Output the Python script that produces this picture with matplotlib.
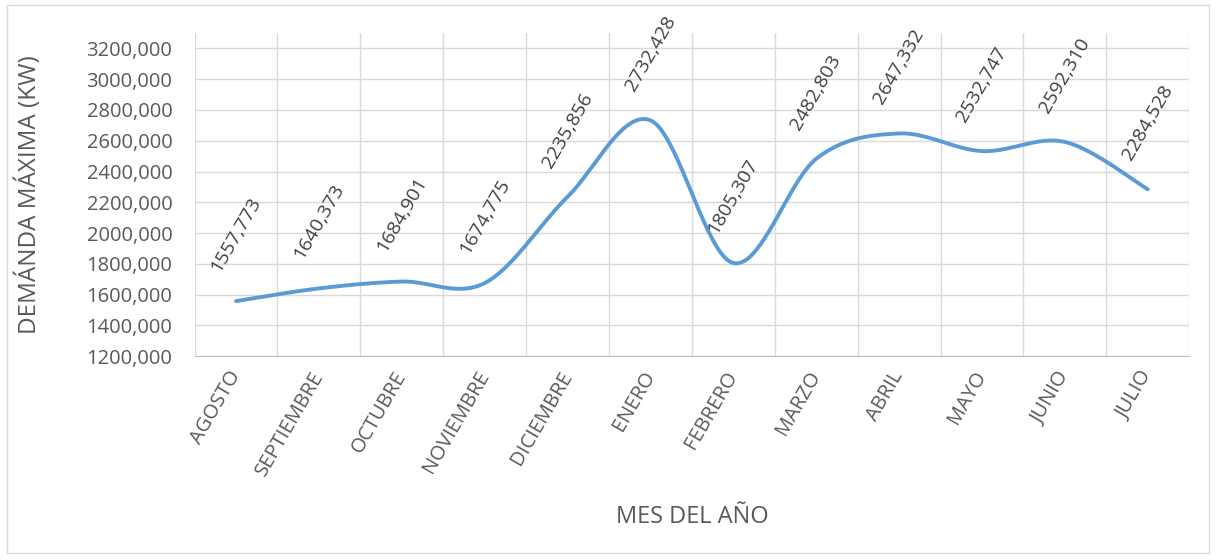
import numpy as np
import matplotlib
matplotlib.use("Agg")
import matplotlib.pyplot as plt
from matplotlib.patches import Rectangle

plt.rcParams['font.family'] = ['Open Sans', 'DejaVu Sans']

meses = ["AGOSTO", "SEPTIEMBRE", "OCTUBRE", "NOVIEMBRE", "DICIEMBRE", "ENERO",
         "FEBRERO", "MARZO", "ABRIL", "MAYO", "JUNIO", "JULIO"]
demanda = [1557.773, 1640.373, 1684.901, 1674.775, 2235.856, 2732.428,
           1805.307, 2482.803, 2647.332, 2532.747, 2592.310, 2284.528]
y_ticks = list(range(1200, 3201, 200))

GRIS = "#595959"
AZUL = "#5B9BD5"


def fmt(v):
    # coma decimal, tres decimales
    return f"{v:.3f}".replace(".", ",")


def suavizar(x, y, n=40):
    # curva tipo Excel: bezier cubica con puntos de control de Catmull-Rom
    x = np.asarray(x, float)
    y = np.asarray(y, float)
    px = np.concatenate([[x[0]], x, [x[-1]]])
    py = np.concatenate([[y[0]], y, [y[-1]]])
    xs, ys = [], []
    t = np.linspace(0, 1, n)
    for i in range(1, len(px) - 2):
        p0 = np.array([px[i], py[i]])
        p3 = np.array([px[i + 1], py[i + 1]])
        p1 = p0 + (p3 - np.array([px[i - 1], py[i - 1]])) / 6
        p2 = p3 - (np.array([px[i + 2], py[i + 2]]) - p0) / 6
        b = ((1 - t) ** 3)[:, None] * p0 + (3 * (1 - t) ** 2 * t)[:, None] * p1 \
            + (3 * (1 - t) * t ** 2)[:, None] * p2 + (t ** 3)[:, None] * p3
        xs.extend(b[:, 0])
        ys.extend(b[:, 1])
    return xs, ys


fig = plt.figure(figsize=(12.16, 5.6), dpi=100)
fig.patches.append(Rectangle((7 / 1216, 7 / 560), 1202 / 1216, 548 / 560,
                             transform=fig.transFigure, fill=False,
                             edgecolor="#D9D9D9", lw=1))
ax = fig.add_axes([0.160, 0.364, 0.818, 0.577])

x = np.arange(len(meses))
sx, sy = suavizar(x, demanda)
ax.plot(sx, sy, color=AZUL, lw=2.8, solid_capstyle="round", zorder=3)

for xi, v in zip(x, demanda):
    ax.annotate(fmt(v), (xi, v), xytext=(0, 48), textcoords="offset points",
                rotation=60, ha="center", va="center", fontsize=14,
                color="#404040", zorder=4)

ax.set_xlim(-0.5, len(meses) - 0.5)
ax.set_ylim(1200, 3300)
ax.set_yticks(y_ticks)
ax.set_yticklabels([fmt(v) for v in y_ticks], fontsize=14.5, color=GRIS)
ax.set_xticks(x)
ax.set_xticklabels(meses, rotation=60, ha="right", va="center",
                   rotation_mode="anchor", fontsize=14.5, color=GRIS)
ax.tick_params(axis="both", length=0)
ax.tick_params(axis="x", pad=12)
ax.tick_params(axis="y", pad=16)

for yv in y_ticks:
    ax.axhline(yv, color="#D9D9D9", lw=1, zorder=1)
for xv in np.arange(-0.5, len(meses), 1):
    ax.axvline(xv, color="#D9D9D9", lw=1, zorder=1)

for s in ["top", "right", "left"]:
    ax.spines[s].set_visible(False)
ax.spines["bottom"].set_color("#BFBFBF")

ax.set_ylabel("DEMÁNDA MÁXIMA (KW)", fontsize=17.5, color=GRIS)
ax.yaxis.set_label_coords(-0.153, 0.5)
fig.text(692 / 1216, 1 - 517 / 560, "MES DEL AÑO", fontsize=17, color=GRIS,
         ha="center", va="center")

fig.savefig("out.png", dpi=100)
